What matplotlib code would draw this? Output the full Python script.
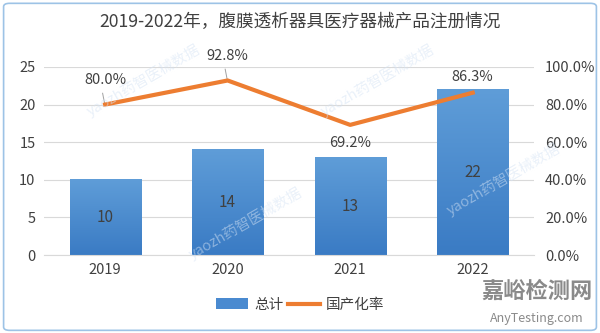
import matplotlib.pyplot as plt
import numpy as np
from matplotlib.patches import FancyBboxPatch, Patch
from matplotlib.lines import Line2D
from matplotlib.ticker import FuncFormatter
from matplotlib.colors import LinearSegmentedColormap

plt.rcParams['font.family'] = ['Noto Sans CJK SC', 'DejaVu Sans']

years = ['2019', '2020', '2021', '2022']
totals = [10, 14, 13, 22]
rates = [0.800, 0.928, 0.692, 0.863]
rate_labels = ['80.0%', '92.8%', '69.2%', '86.3%']

txt = '#404040'
grid = '#d9d9d9'

fig = plt.figure(figsize=(6, 3.33), dpi=100)
ax = fig.add_axes([0.073, 0.234, 0.817, 0.565])
ax2 = ax.twinx()

x = np.arange(len(years))
bw = 0.58
# bars with a vertical gradient
grad = np.linspace(0, 1, 256).reshape(-1, 1)
cmap = LinearSegmentedColormap.from_list('b', ['#3a7bc4', '#5f9dd8'])
bars = ax.bar(x, totals, width=bw, color='none', zorder=2)
for b in bars:
    x0, w, h = b.get_x(), b.get_width(), b.get_height()
    ax.imshow(grad, extent=[x0, x0 + w, 0, h], origin='lower', cmap=cmap,
              aspect='auto', zorder=2)
for xi, v in zip(x, totals):
    ax.text(xi, v / 2, str(v), ha='center', va='center', fontsize=11, color=txt, zorder=4)

ax.set_xlim(-0.5, 3.5)
ax.set_ylim(0, 25)
ax.set_yticks(range(0, 26, 5))
ax.set_xticks(x)
ax.set_xticklabels(years)
ax.yaxis.grid(True, color=grid, linewidth=0.8, zorder=0)
ax.set_axisbelow(True)
for s in ['top', 'right', 'left']:
    ax.spines[s].set_visible(False)
ax.spines['bottom'].set_color(grid)
ax.tick_params(axis='both', length=0, labelsize=10.5, colors=txt, pad=6)

ax2.plot(x, rates, color='#ed7d31', linewidth=3, zorder=5, solid_joinstyle='round')
ax2.set_ylim(0, 1)
ax2.set_yticks(np.arange(0, 1.01, 0.2))
ax2.yaxis.set_major_formatter(FuncFormatter(lambda v, p: f'{v*100:.1f}%'))
for s in ['top', 'right', 'left', 'bottom']:
    ax2.spines[s].set_visible(False)
ax2.tick_params(axis='y', length=0, labelsize=10.5, colors=txt, pad=8)
offs = [0.13, 0.13, -0.095, 0.085]
for xi, r, lab, dy in zip(x, rates, rate_labels, offs):
    ax2.text(xi, r + dy, lab, ha='center', va='center', fontsize=10.5, color=txt, zorder=6)
    if dy > 0.1:
        # small leader line from label to point
        ax2.plot([xi - 0.02, xi - 0.005], [r + dy - 0.07, r + 0.01], color='#a0a0a0',
                 linewidth=0.7, zorder=4)

fig.text(0.5, 0.935, '2019-2022年，腹膜透析器具医疗器械产品注册情况', ha='center', va='center',
         fontsize=12.7, color=txt)

handles = [Patch(facecolor='#4a8ad0', edgecolor='none'),
           Line2D([0], [0], color='#ed7d31', linewidth=3)]
fig.legend(handles, ['总计', '国产化率'], loc='center', bbox_to_anchor=(0.5, 0.085), ncol=2,
           frameon=False, fontsize=10.5, labelcolor=txt, handlelength=2.2, columnspacing=0.3,
           handletextpad=0.4)

# faint watermarks
for (wx, wy) in [(0.24, 0.76), (0.41, 0.33), (0.63, 0.76), (0.84, 0.46)]:
    fig.text(wx, wy, 'yaozh药智医械数据', rotation=30, fontsize=10.5, color='#d5e3f4',
             alpha=0.5, ha='center', va='center')
fig.text(0.895, 0.125, '嘉峪检测网', fontsize=16, color='#8a8a8a', ha='center', va='center',
         fontweight='bold')
fig.text(0.895, 0.045, 'AnyTesting.com', fontsize=9, color='#8a8a8a', ha='center', va='center',
         style='italic')

border = FancyBboxPatch((0.006, 0.008), 0.988, 0.982, boxstyle='round,pad=0,rounding_size=0.01',
                        transform=fig.transFigure, fill=False, edgecolor='#9dc3e6', linewidth=1.2)
fig.patches.append(border)

fig.savefig('out.png', dpi=100)
